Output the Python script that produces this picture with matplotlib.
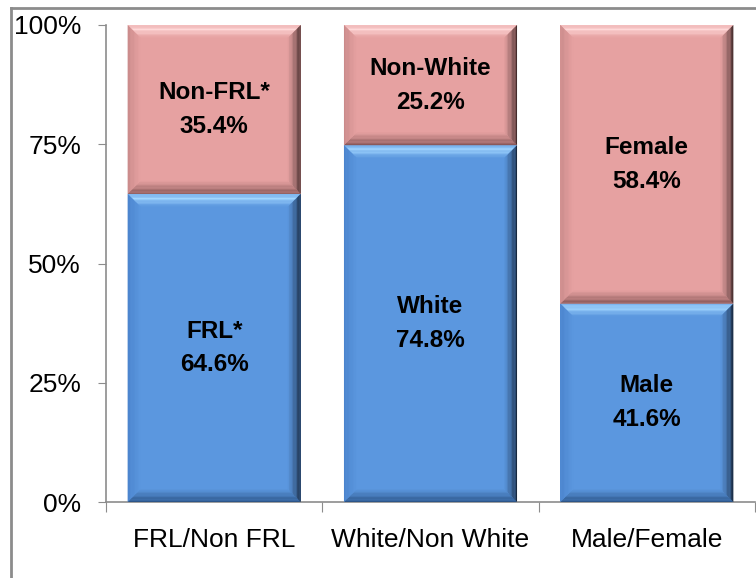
import matplotlib.pyplot as plt
import numpy as np
from matplotlib.patches import Polygon, Rectangle
from matplotlib.lines import Line2D

plt.rcParams['font.family'] = ['Liberation Sans', 'DejaVu Sans']

# Data
categories = ['FRL/Non FRL', 'White/Non White', 'Male/Female']
bottom_names = ['FRL*', 'White', 'Male']
top_names = ['Non-FRL*', 'Non-White', 'Female']
bottom_vals = [64.6, 74.8, 41.6]
top_vals = [35.4, 25.2, 58.4]

blue = dict(base='#5b97df', light='#a2d6ff', left='#4a83cc', dark='#0f1a2a', bottom='#2a5284')
pink = dict(base='#e6a1a1', light='#ffd8d8', left='#c98a8a', dark='#2e1c1c', bottom='#855555')


def mix(c1, c2, t):
    a = np.array(plt.matplotlib.colors.to_rgb(c1))
    b = np.array(plt.matplotlib.colors.to_rgb(c2))
    return tuple(a * (1 - t) + b * t)


def bevel_bar(ax, x0, y0, w, h, pal, bx, by, n=10):
    """Draw a bar with a bevelled edge made of gradient trapezoids."""
    ax.add_patch(Rectangle((x0, y0), w, h, facecolor=pal['base'], edgecolor='none', zorder=2))
    x1, y1 = x0 + w, y0 + h
    for k in range(n):
        a, b = k / n, (k + 1) / n
        t = (k + 0.5) / n
        # top: highlight strongest a little inside the edge
        ax.add_patch(Polygon([(x0 + a * bx, y1 - a * by), (x1 - a * bx, y1 - a * by),
                              (x1 - b * bx, y1 - b * by), (x0 + b * bx, y1 - b * by)],
                             closed=True, facecolor=mix(pal['light'], pal['base'], min(1, abs(t - 0.35) * 1.6)),
                             edgecolor='none', zorder=3))
        # bottom
        ax.add_patch(Polygon([(x0 + a * bx, y0 + a * by), (x1 - a * bx, y0 + a * by),
                              (x1 - b * bx, y0 + b * by), (x0 + b * bx, y0 + b * by)],
                             closed=True, facecolor=mix(pal['bottom'], pal['base'], t),
                             edgecolor='none', zorder=3))
        # left
        ax.add_patch(Polygon([(x0 + a * bx, y0 + a * by), (x0 + a * bx, y1 - a * by),
                              (x0 + b * bx, y1 - b * by), (x0 + b * bx, y0 + b * by)],
                             closed=True, facecolor=mix(pal['left'], pal['base'], t),
                             edgecolor='none', zorder=3))
        # right
        ax.add_patch(Polygon([(x1 - a * bx, y0 + a * by), (x1 - a * bx, y1 - a * by),
                              (x1 - b * bx, y1 - b * by), (x1 - b * bx, y0 + b * by)],
                             closed=True, facecolor=mix(pal['dark'], pal['base'], t ** 0.7),
                             edgecolor='none', zorder=3))


fig = plt.figure(figsize=(7.56, 5.78), dpi=100)
ax = fig.add_axes([106 / 756, 76 / 578, 649 / 756, 477 / 578])

x = np.arange(len(categories))
width = 0.8
ax.set_xlim(-0.5, len(categories) - 0.5)
ax.set_ylim(0, 100)

# bevel size in data units (~13 px)
bx = 13 / (649 / 3)
by = 13 / (477 / 100)

for i in range(len(categories)):
    bevel_bar(ax, x[i] - width / 2, 0, width, bottom_vals[i], blue, bx, by)
    bevel_bar(ax, x[i] - width / 2, bottom_vals[i], width, top_vals[i], pink, bx, by)
    ax.text(x[i], bottom_vals[i] / 2, f'{bottom_names[i]}\n{bottom_vals[i]:.1f}%',
            ha='center', va='center', fontsize=17.5, fontweight='bold', linespacing=1.6, zorder=5)
    ax.text(x[i], bottom_vals[i] + top_vals[i] / 2, f'{top_names[i]}\n{top_vals[i]:.1f}%',
            ha='center', va='center', fontsize=17.5, fontweight='bold', linespacing=1.6, zorder=5)

# Axes styling
for side in ['top', 'right']:
    ax.spines[side].set_visible(False)
for side in ['left', 'bottom']:
    ax.spines[side].set_color('#8c8c8c')
    ax.spines[side].set_linewidth(1.2)

ax.set_yticks([0, 25, 50, 75, 100])
ax.set_yticklabels(['0%', '25%', '50%', '75%', '100%'], fontsize=19)
ax.tick_params(axis='y', direction='out', length=6, color='#8c8c8c', pad=12)

ax.set_xticks(np.arange(-0.5, len(categories), 1.0))
ax.set_xticklabels([])
ax.set_xticks(x, minor=True)
ax.set_xticklabels(categories, minor=True, fontsize=19)
ax.tick_params(axis='x', which='major', direction='out', length=7, color='#8c8c8c')
ax.tick_params(axis='x', which='minor', length=0, pad=19)

# outer chart frame
fig.add_artist(Line2D([11 / 756, 11 / 756], [0, 1 - 8 / 578], transform=fig.transFigure,
                      color='#8c8c8c', lw=2))
fig.add_artist(Line2D([11 / 756, 1], [1 - 8 / 578, 1 - 8 / 578], transform=fig.transFigure,
                      color='#8c8c8c', lw=2))

plt.savefig('out.png', dpi=100)
